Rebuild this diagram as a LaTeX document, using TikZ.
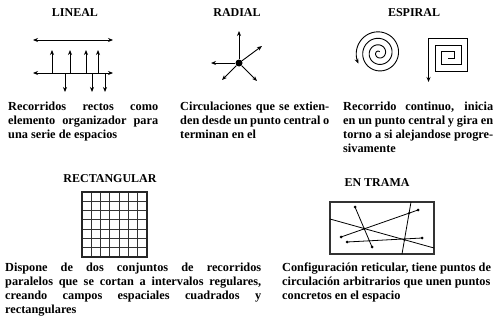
\documentclass[tikz,border=0pt]{standalone}
\usepackage{fontspec}
\setmainfont{Liberation Serif}
\usetikzlibrary{arrows.meta}
\tikzset{
 ttl/.style={font=\fontsize{12}{14}\selectfont\bfseries, inner sep=0, anchor=base},
 para/.style={font=\fontsize{12.3}{14}\selectfont\bfseries, inner sep=0, anchor=north west, align=left},
 ln/.style={line width=0.9pt},
 arr/.style={ln, -{Stealth[length=5pt,width=4pt]}},
 darr/.style={ln, {Stealth[length=5pt,width=4pt]}-{Stealth[length=5pt,width=4pt]}},
 edot/.style={circle, fill, inner sep=0, minimum size=3pt},
 xdot/.style={circle, fill, inner sep=0, minimum size=2.5pt},
 gl/.style={line width=0.9pt, black!80},
 tl/.style={line width=0.8pt},
}
\newcommand{\jl}[2]{\makebox[#1][s]{#2}}
\begin{document}
\begin{tikzpicture}[x=1pt,y=-1pt]
\useasboundingbox (0,0) rectangle (494,329);
% ---------- LINEAL ----------
\node[ttl] (t1) at (75,17) {LINEAL};
\coordinate (a1) at (33,40); \coordinate (a2) at (113,40);
\draw[darr] (a1) -- (a2);
\coordinate (b1) at (33,73); \coordinate (b2) at (113,73);
\draw[darr] (b1) -- (b2);
\foreach \x [count=\i] in {52,70,86,98} {
  \coordinate (u\i s) at (\x,73); \coordinate (u\i e) at (\x,50);
  \draw[arr] (u\i s) -- (u\i e);
}
\foreach \x [count=\i] in {65,92,105} {
  \coordinate (d\i s) at (\x,73); \coordinate (d\i e) at (\x,92);
  \draw[arr] (d\i s) -- (d\i e);
}
\node[para] (p1) at (8,101.5) {\jl{150pt}{Recorridos rectos como}\\\jl{150pt}{elemento organizador para}\\una serie de espacios};
% ---------- RADIAL ----------
\node[ttl] (t2) at (237,17) {RADIAL};
\node[circle, fill, inner sep=0, minimum size=7pt] (rc) at (239,63) {};
\coordinate (r1) at (239,31);
\coordinate (r2) at (211,63);
\coordinate (r3) at (262,46);
\coordinate (r4) at (222,80);
\coordinate (r5) at (257,81);
\foreach \r in {r1,r2,r3,r4,r5} { \draw[arr] (rc) -- (\r); }
\node[para] (p2) at (180,101.5) {\jl{149pt}{Circulaciones que se extien-}\\\jl{149pt}{den desde un punto central o}\\terminan en el};
% ---------- ESPIRAL ----------
\node[ttl] (t3) at (414,17) {ESPIRAL};
\draw[arr] plot[domain=60:1287, samples=400, variable=\t] ({379+0.018056*\t*cos(\t)}, {53-0.018056*\t*sin(\t)});
\draw[arr] (448,58) -- (454.5,58) -- (454.5,51.5) -- (441.5,51.5) -- (441.5,64.5) -- (461,64.5) -- (461,45) -- (435,45) -- (435,71) -- (467.5,71) -- (467.5,38.5) -- (428.5,38.5) -- (428.5,82);
\node[para] (p3) at (343,101.5) {\jl{150pt}{Recorrido continuo, inicia}\\\jl{150pt}{en un punto central y gira en}\\\jl{150pt}{torno a si alejandose progre-}\\sivamente};
% ---------- RECTANGULAR ----------
\node[ttl] (t4) at (110,182) {RECTANGULAR};
\foreach \i in {1,...,6} {
  \draw[gl] ({82+\i*65/7},192) -- ({82+\i*65/7},257);
  \draw[gl] (82,{192+\i*65/7}) -- (147,{192+\i*65/7});
}
\draw[line width=1.2pt, black!85] (82,192) rectangle (147,257);
\node[para] (p4) at (5,262.5) {\jl{256pt}{Dispone de dos conjuntos de recorridos}\\\jl{256pt}{paralelos que se cortan a intervalos regulares,}\\\jl{256pt}{creando campos espaciales cuadrados y}\\rectangulares};
% ---------- EN TRAMA ----------
\node[ttl] (t5) at (377,186) {EN TRAMA};
\draw[line width=1.4pt, black!80] (330,202) rectangle (434,254);
\coordinate (A1) at (330,219); \coordinate (A2) at (434,248);
\coordinate (B1) at (355,207); \coordinate (B2) at (372,247);
\coordinate (C1) at (341,237); \coordinate (C2) at (418,210);
\coordinate (D1) at (347,242); \coordinate (D2) at (422,238);
\coordinate (E1) at (411,202); \coordinate (E2) at (402,254);
\draw[tl] (A1) -- (A2);
\draw[tl] (B1) -- (B2);
\draw[tl] (C1) -- (C2);
\draw[tl] (D1) -- (D2);
\draw[tl] (E1) -- (E2);
\foreach \p in {B1,B2,C1,C2,D1,D2} { \node[edot] at (\p) {}; }
\node[xdot] at (intersection of B1--B2 and C1--C2) {};
\node[xdot] at (intersection of C1--C2 and E1--E2) {};
\node[xdot] at (intersection of A1--A2 and E1--E2) {};
\node[para] (p5) at (282,262.5) {Configuración reticular, tiene puntos de\\circulación arbitrarios que unen puntos\\concretos en el espacio};
\end{tikzpicture}
\end{document}
